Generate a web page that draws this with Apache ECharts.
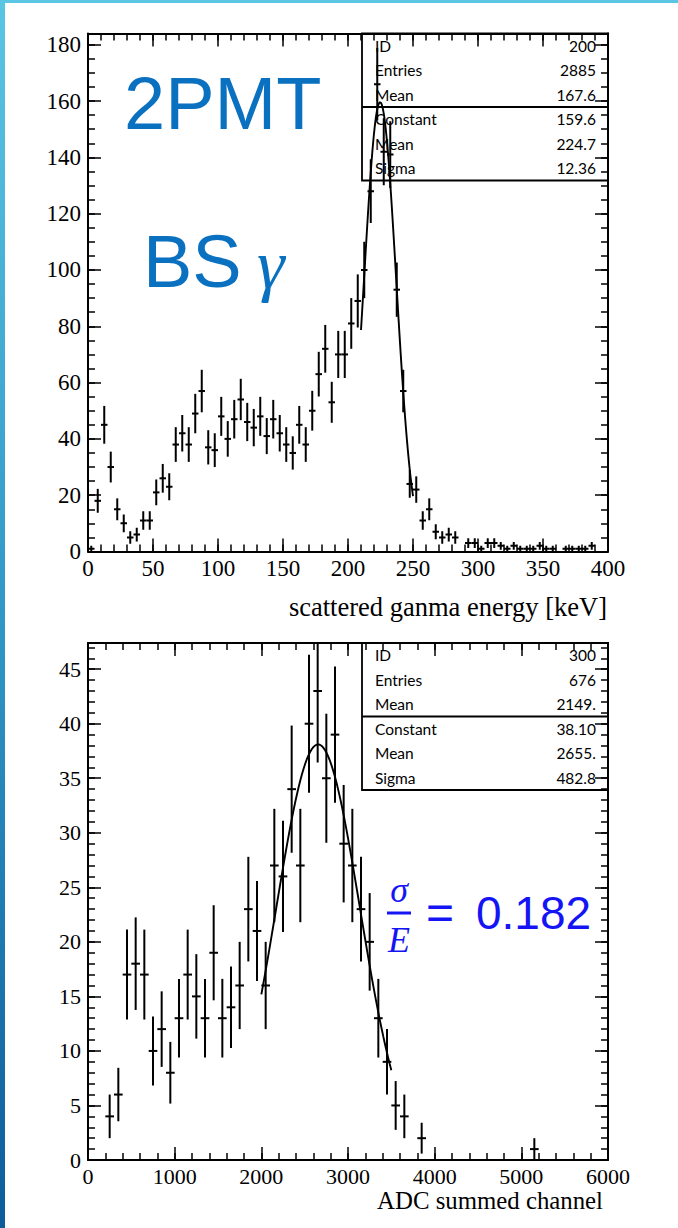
<!DOCTYPE html>
<html>
<head>
<meta charset="utf-8">
<script src="https://cdn.jsdelivr.net/npm/echarts@6/dist/echarts.min.js"></script>
<style>
  html, body { margin: 0; padding: 0; background: #fff; }
  #page { position: relative; width: 678px; height: 1228px; overflow: hidden; background: #fff; }
  #topbar { position: absolute; left: 0; top: 0; width: 678px; height: 3px; background: #5bc5e4; }
  #sidebar { position: absolute; left: 0; top: 0; width: 5px; height: 1228px;
             background: linear-gradient(#5bc5e4, #3198c6 50%, #0e5c9a); }
  #chart { position: absolute; left: 0; top: 0; width: 678px; height: 1228px; }
</style>
</head>
<body>
<div id="page">
  <div id="chart"></div>
  <div id="topbar"></div>
  <div id="sidebar"></div>
</div>
<script>
// ---- Upper histogram: scattered gamma energy, 5 keV bins over 0..400 keV ----
const energyRange = [0, 400];
const energyBinWidth = 5;
const energyCounts = [
  1, 18, 45, 30, 15, 10, 5, 6, 11, 11,
  21, 26, 23, 38, 42, 38, 49, 57, 37, 36,
  48, 40, 47, 54, 46, 44, 48, 41, 47, 42,
  38, 35, 45, 38, 50, 63, 72, 53, 70, 70,
  81, 89, 100, 128, 166, 142, 141, 93, 57, 24,
  22, 11, 15, 7, 5, 6, 5, 0, 3, 3,
  1, 3, 3, 2, 1, 2, 1, 1, 1, 2,
  1, 1, 0, 1, 1, 1, 1, 2, 0, 0
];
const energyYMax = 184;
const energyXTicks = [50, 10];   // major / minor step
const energyYTicks = [20, 5];
// Gaussian fit: Constant, Mean, Sigma and the fitted range
const energyFitParams = [159.6, 224.7, 12.36];
const energyFitRange = [210, 250];
const energyStatValues = ['200', '2885', '167.6', '159.6', '224.7', '12.36'];
const energyTitle = 'scattered ganma energy [keV]';

// ---- Lower histogram: summed ADC channel, 100-channel bins over 0..6000 ----
const adcRange = [0, 6000];
const adcBinWidth = 100;
const adcCounts = [
  0, 0, 4, 6, 17, 18, 17, 10, 12, 8,
  13, 17, 15, 13, 19, 13, 14, 16, 23, 21,
  16, 27, 26, 34, 27, 40, 43, 35, 39, 29,
  27, 23, 20, 13, 9, 5, 4, 0, 2, 0,
  0, 0, 0, 0, 0, 0, 0, 0, 0, 0,
  0, 1, 0, 0, 0, 0, 0, 0, 0, 0
];
const adcYMax = 47.4;
const adcXTicks = [1000, 200];
const adcYTicks = [5, 1];
const adcFitParams = [38.10, 2655, 482.8];
const adcFitRange = [2000, 3500];
const adcStatValues = ['300', '676', '2149.', '38.10', '2655.', '482.8'];
const adcTitle = 'ADC summed channel';

const statNames = ['ID', 'Entries', 'Mean', 'Constant', 'Mean', 'Sigma'];

const setupLabel = ['2PMT', 'BS', 'γ'];
const resolutionLabel = ['σ', 'E', '=', '0.182'];

// ---------------------------------------------------------------------------

// histogram points with Poisson error bars, empty bins are not drawn
function histPoints(counts, range, width) {
  const pts = [];
  counts.forEach((n, i) => {
    if (n > 0) pts.push([range[0] + (i + 0.5) * width, n, Math.sqrt(n)]);
  });
  return pts;
}

// fitted Gaussian evaluated from its stated parameters over the fit range
function gaussCurve(params, range, steps) {
  const [c, m, s] = params;
  const pts = [];
  for (let i = 0; i <= steps; i++) {
    const x = range[0] + (range[1] - range[0]) * i / steps;
    pts.push([x, c * Math.exp(-0.5 * Math.pow((x - m) / s, 2))]);
  }
  return pts;
}

function crossRenderer(halfWidth) {
  return function (params, api) {
    const x = api.value(0), y = api.value(1), e = api.value(2);
    const l = api.coord([x - halfWidth, y]);
    const r = api.coord([x + halfWidth, y]);
    const t = api.coord([x, y + e]);
    const b = api.coord([x, y - e]);
    const style = { stroke: '#000', lineWidth: 2 };
    return {
      type: 'group',
      children: [
        { type: 'line', shape: { x1: l[0], y1: l[1], x2: r[0], y2: r[1] }, style },
        { type: 'line', shape: { x1: t[0], y1: t[1], x2: b[0], y2: b[1] }, style }
      ]
    };
  };
}

const frameLine = { color: '#000', width: 2 };
const tickLine = { color: '#000', width: 1.5 };

// one frame side: a major-tick axis (with the frame line) and a minor-tick axis
function sideAxes(gridIndex, position, range, steps, label) {
  const common = {
    type: 'value', gridIndex, position, min: range[0], max: range[1],
    splitLine: { show: false }, splitArea: { show: false }, silent: true
  };
  return [
    Object.assign({}, common, {
      interval: steps[0],
      axisLine: { show: true, onZero: false, lineStyle: frameLine },
      axisTick: { show: true, inside: true, length: 13, lineStyle: tickLine },
      axisLabel: label ? Object.assign({ show: true }, label) : { show: false }
    }),
    Object.assign({}, common, {
      interval: steps[1],
      axisLine: { show: false, onZero: false },
      axisTick: { show: true, inside: true, length: 7, lineStyle: tickLine },
      axisLabel: { show: false }
    })
  ];
}

function tickFont(size, margin, extra) {
  return Object.assign({
    color: '#000', fontFamily: 'Liberation Serif', fontSize: size, margin,
    formatter: v => String(v)
  }, extra || {});
}

const xAxes = [].concat(
  sideAxes(0, 'bottom', energyRange, energyXTicks, tickFont(23, 5)),
  sideAxes(0, 'top', energyRange, energyXTicks, null),
  sideAxes(1, 'bottom', adcRange, adcXTicks, tickFont(22, 5)),
  sideAxes(1, 'top', adcRange, adcXTicks, null)
);
const yAxes = [].concat(
  sideAxes(0, 'left', [0, energyYMax], energyYTicks, tickFont(23, 7, { showMaxLabel: false })),
  sideAxes(0, 'right', [0, energyYMax], energyYTicks, null),
  sideAxes(1, 'left', [0, adcYMax], adcYTicks, tickFont(22, 7, { showMaxLabel: false })),
  sideAxes(1, 'right', [0, adcYMax], adcYTicks, null)
);

const grids = [
  { left: 88, top: 33.5, width: 520, height: 518, containLabel: false, outerBoundsMode: 'none' },
  { left: 88, top: 643, width: 520, height: 517, containLabel: false, outerBoundsMode: 'none' }
];

// statistics box in the upper right corner of a frame
function statBox(grid, values) {
  const left = 362, right = grid.left + grid.width, top = grid.top;
  const row = 24.5;
  const els = [
    { type: 'rect', z: 1, shape: { x: left, y: top, width: right - left, height: row * 6 },
      style: { fill: 'none', stroke: '#000', lineWidth: 1.8 } },
    { type: 'line', z: 1, shape: { x1: left, y1: top + row * 3, x2: right, y2: top + row * 3 },
      style: { stroke: '#000', lineWidth: 1.8 } }
  ];
  statNames.forEach((name, i) => {
    const y = top + 12.3 + i * row;
    els.push({ type: 'text', z: 1, x: left + 13, y,
      style: { text: name, font: '15.5px Lato', fill: '#000', align: 'left', verticalAlign: 'middle',
               textAlign: 'left', textVerticalAlign: 'middle' } });
    els.push({ type: 'text', z: 1, x: right - 12, y,
      style: { text: values[i], font: '15.5px Lato', fill: '#000', align: 'right', verticalAlign: 'middle',
               textAlign: 'right', textVerticalAlign: 'middle' } });
  });
  return els;
}

function text(x, y, str, font, fill, align) {
  return { type: 'text', z: 10, x, y,
    style: { text: str, font, fill, align: align || 'left', verticalAlign: 'middle',
             textAlign: align || 'left', textVerticalAlign: 'middle' } };
}

const blueTitle = '#0a70c0';
const blueMath = '#1414f5';

const graphics = [].concat(
  statBox(grids[0], energyStatValues),
  statBox(grids[1], adcStatValues),
  [
    text(607, 607, energyTitle, '26.5px "Liberation Serif"', '#000', 'right'),
    text(603, 1200, adcTitle, '24.8px "Liberation Serif"', '#000', 'right'),
    text(124, 103.5, setupLabel[0], '74px "Liberation Sans"', blueTitle),
    text(143, 261.5, setupLabel[1], '74px "Liberation Sans"', blueTitle),
    text(257, 264, setupLabel[2], 'italic 70px "Liberation Serif"', blueTitle),
    text(399, 889.5, resolutionLabel[0], 'italic 36px "Liberation Serif"', blueMath, 'center'),
    { type: 'rect', z: 10, shape: { x: 387, y: 911.5, width: 24, height: 3 }, style: { fill: blueMath } },
    text(399, 939.5, resolutionLabel[1], 'italic 36px "Liberation Serif"', blueMath, 'center'),
    text(426, 912, resolutionLabel[2], '48px "Liberation Sans"', blueMath),
    text(476, 912.5, resolutionLabel[3], '46px "Liberation Sans"', blueMath)
  ]
);

const chart = echarts.init(document.getElementById('chart'), null, { renderer: 'svg', width: 678, height: 1228 });
chart.setOption({
  animation: false,
  backgroundColor: 'transparent',
  grid: grids,
  xAxis: xAxes,
  yAxis: yAxes,
  graphic: { elements: graphics },
  series: [
    { type: 'custom', xAxisIndex: 0, yAxisIndex: 0, clip: true, z: 3,
      renderItem: crossRenderer(energyBinWidth / 2),
      data: histPoints(energyCounts, energyRange, energyBinWidth) },
    { type: 'line', xAxisIndex: 0, yAxisIndex: 0, symbol: 'none', smooth: false, z: 4,
      lineStyle: { color: '#000', width: 1.9 },
      data: gaussCurve(energyFitParams, energyFitRange, 80) },
    { type: 'custom', xAxisIndex: 4, yAxisIndex: 4, clip: true, z: 3,
      renderItem: crossRenderer(adcBinWidth / 2),
      data: histPoints(adcCounts, adcRange, adcBinWidth) },
    { type: 'line', xAxisIndex: 4, yAxisIndex: 4, symbol: 'none', smooth: false, z: 4,
      lineStyle: { color: '#000', width: 1.9 },
      data: gaussCurve(adcFitParams, adcFitRange, 80) }
  ]
});
</script>
</body>
</html>
